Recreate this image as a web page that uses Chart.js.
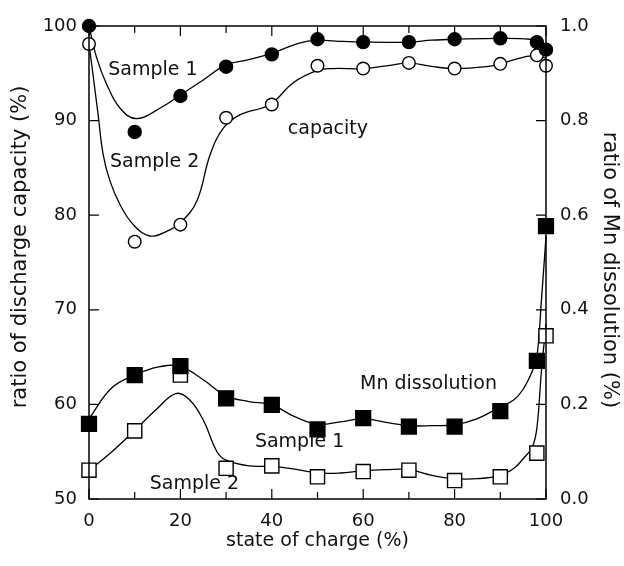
<!DOCTYPE html>
<html>
<head>
<meta charset="utf-8">
<script src="https://cdn.jsdelivr.net/npm/chart.js@4"></script>
<style>
	body { margin: 0; background: #fff; }
	#wrap { width: 624px; height: 566px; }
</style>
</head>
<body>
<div id="wrap"><canvas id="soc"></canvas></div>
<script>
// measured state of charge (%)
const socPoints = [0, 10, 20, 30, 40, 50, 60, 70, 80, 90, 98, 100];

// ratio of discharge capacity (%) - markers
const capSample1 = [100, 88.8, 92.6, 95.7, 97.0, 98.6, 98.3, 98.3, 98.6, 98.7, 98.3, 97.5];
const capSample2 = [98.1, 77.2, 79.0, 90.3, 91.7, 95.8, 95.5, 96.1, 95.5, 96.0, 96.9, 95.8];

// ratio of Mn dissolution (%) - markers
const mnSample1 = [0.159, 0.262, 0.281, 0.213, 0.199, 0.147, 0.171, 0.153, 0.153, 0.186, 0.292, 0.577];
const mnSample2 = [0.061, 0.144, 0.262, 0.065, 0.070, 0.047, 0.058, 0.061, 0.039, 0.047, 0.097, 0.345];

// fitted curves
const capCurve1X = [0, 1.7, 3.9, 6.8, 10.4, 15.5, 20, 25, 30, 34.5, 40, 46, 50, 54, 60, 70, 75, 80, 90, 96.5, 98, 100];
const capCurve1Y = [100, 96.6, 93.8, 91.3, 90.2, 91.3, 92.7, 94.3, 95.9, 96.4, 97.1, 98.2, 98.5, 98.4, 98.3, 98.3, 98.5, 98.6, 98.7, 98.6, 98.3, 97.6];
const capCurve2X = [0, 0.6, 2, 3.1, 4.6, 6.8, 9.7, 13.3, 17, 20, 23.6, 26.5, 29.4, 33, 39.6, 44.7, 50, 53.4, 60, 66.6, 70, 75.3, 80, 87, 90, 95.8, 98.3, 100];
const capCurve2Y = [98.1, 95.9, 90.6, 86.4, 83.6, 81.1, 79.0, 77.8, 78.3, 79.2, 81.5, 86.4, 89.2, 90.6, 91.7, 94.0, 95.3, 95.5, 95.5, 95.9, 96.1, 95.7, 95.5, 95.7, 96.0, 96.8, 96.8, 96.6];

const mnCurve1X = [0, 5, 10, 15, 20, 25, 30, 35, 40, 45, 50, 55, 60, 65, 70, 75, 80, 85, 90, 93, 95, 97, 98, 99, 100];
const mnCurve1Y = [0.17, 0.235, 0.262, 0.279, 0.28, 0.252, 0.218, 0.206, 0.199, 0.174, 0.158, 0.163, 0.17, 0.162, 0.155, 0.155, 0.157, 0.17, 0.195, 0.21, 0.232, 0.27, 0.30, 0.42, 0.555];
const mnCurve2X = [0, 5, 10, 15, 19, 22, 25, 28, 30, 35, 40, 45, 50, 55, 60, 65, 70, 75, 80, 85, 90, 93, 95, 97, 98, 99, 100];
const mnCurve2Y = [0.06, 0.10, 0.145, 0.192, 0.223, 0.21, 0.167, 0.10, 0.082, 0.070, 0.069, 0.063, 0.055, 0.055, 0.06, 0.062, 0.062, 0.05, 0.043, 0.043, 0.05, 0.065, 0.085, 0.11, 0.15, 0.27, 0.37];

// tick values
const xTicks = [0, 20, 40, 60, 80, 100];
const leftTicks = [50, 60, 70, 80, 90, 100];
const rightTicks = [0, 0.2, 0.4, 0.6, 0.8, 1.0];

// text in the plot: [text, x, y on the capacity axis]
const notes = [
	['Sample 1', 4.2, 95.3],
	['Sample 2', 4.6, 85.6],
	['capacity', 43.5, 89.1],
	['Mn dissolution', 59.3, 62.2],
	['Sample 1', 36.3, 56.0],
	['Sample 2', 13.3, 51.6],
];

const FONT = 'DejaVu Sans';
const INK = '#111';

function pts(xs, ys) {
	return xs.map((x, i) => ({ x, y: ys[i] }));
}

function markers(ys, axis, style, filled, radius) {
	return {
		data: pts(socPoints, ys),
		yAxisID: axis,
		showLine: false,
		clip: false,
		pointStyle: style,
		pointRadius: radius,
		pointBorderWidth: 1.4,
		pointBorderColor: '#000',
		pointBackgroundColor: filled ? '#000' : '#fff',
	};
}

function curve(xs, ys, axis) {
	return {
		data: pts(xs, ys),
		yAxisID: axis,
		showLine: true,
		clip: false,
		pointRadius: 0,
		borderColor: '#000',
		borderWidth: 1.3,
		tension: 0.4,
	};
}

// frame, inward ticks, axis titles and labels inside the plot
const framePlugin = {
	id: 'frame',
	afterDatasetsDraw(chart) {
		const { ctx, chartArea: a, scales } = chart;
		ctx.save();
		ctx.strokeStyle = '#000';
		ctx.lineWidth = 1.5;
		ctx.strokeRect(a.left, a.top, a.right - a.left, a.bottom - a.top);
		ctx.lineWidth = 1.2;
		ctx.beginPath();
		for (let v = 0; v <= 100; v += 10) {
			const px = scales.x.getPixelForValue(v);
			const len = v % 20 === 0 ? 10 : 7;
			ctx.moveTo(px, a.bottom);
			ctx.lineTo(px, a.bottom - len);
			ctx.moveTo(px, a.top);
			ctx.lineTo(px, a.top + len);
		}
		leftTicks.forEach((v) => {
			const py = scales.y.getPixelForValue(v);
			ctx.moveTo(a.left, py);
			ctx.lineTo(a.left + 10, py);
		});
		rightTicks.forEach((v) => {
			const py = scales.y2.getPixelForValue(v);
			ctx.moveTo(a.right, py);
			ctx.lineTo(a.right - 10, py);
		});
		ctx.stroke();

		ctx.fillStyle = INK;
		ctx.font = `19px "${FONT}"`;
		ctx.textAlign = 'left';
		ctx.textBaseline = 'middle';
		notes.forEach(([text, x, y]) => {
			ctx.fillText(text, scales.x.getPixelForValue(x), scales.y.getPixelForValue(y));
		});

		// axis titles
		ctx.textAlign = 'center';
		ctx.fillText('state of charge (%)', (a.left + a.right) / 2, 541);
		ctx.font = `21px "${FONT}"`;
		ctx.save();
		ctx.translate(21, 247);
		ctx.rotate(-Math.PI / 2);
		ctx.fillText('ratio of discharge capacity (%)', 0, 0);
		ctx.restore();
		ctx.save();
		ctx.translate(609, 270);
		ctx.rotate(Math.PI / 2);
		ctx.fillText('ratio of Mn dissolution (%)', 0, 0);
		ctx.restore();
		ctx.restore();
	},
};

new Chart(document.getElementById('soc'), {
	type: 'scatter',
	data: {
		datasets: [
			markers(capSample1, 'y', 'circle', true, 6.5),
			markers(capSample2, 'y', 'circle', false, 6.3),
			markers(mnSample1, 'y2', 'rect', true, 10.5),
			markers(mnSample2, 'y2', 'rect', false, 10),
			curve(capCurve1X, capCurve1Y, 'y'),
			curve(capCurve2X, capCurve2Y, 'y'),
			curve(mnCurve1X, mnCurve1Y, 'y2'),
			curve(mnCurve2X, mnCurve2Y, 'y2'),
		],
	},
	options: {
		responsive: true,
		maintainAspectRatio: false,
		animation: false,
		layout: { padding: { top: 26, left: 0, right: 0, bottom: 0 } },
		plugins: { legend: { display: false }, tooltip: { enabled: false } },
		scales: {
			x: {
				type: 'linear',
				min: 0,
				max: 100,
				afterBuildTicks: (s) => { s.ticks = xTicks.map((value) => ({ value })); },
				afterFit: (s) => { s.height = 67; },
				grid: { display: false, drawTicks: false },
				border: { display: false },
				ticks: { color: INK, padding: 12, font: { family: FONT, size: 18 } },
			},
			y: {
				position: 'left',
				min: 50,
				max: 100,
				afterBuildTicks: (s) => { s.ticks = leftTicks.map((value) => ({ value })); },
				afterFit: (s) => { s.width = 89; },
				grid: { display: false, drawTicks: false },
				border: { display: false },
				ticks: { color: INK, padding: 12, font: { family: FONT, size: 18 } },
			},
			y2: {
				position: 'right',
				min: 0,
				max: 1,
				afterBuildTicks: (s) => { s.ticks = rightTicks.map((value) => ({ value })); },
				afterFit: (s) => { s.width = 78; },
				grid: { display: false, drawTicks: false },
				border: { display: false },
				ticks: {
					color: INK,
					padding: 14,
					font: { family: FONT, size: 18 },
					callback: (v) => Number(v).toFixed(1),
				},
			},
		},
	},
	plugins: [framePlugin],
});
</script>
</body>
</html>
